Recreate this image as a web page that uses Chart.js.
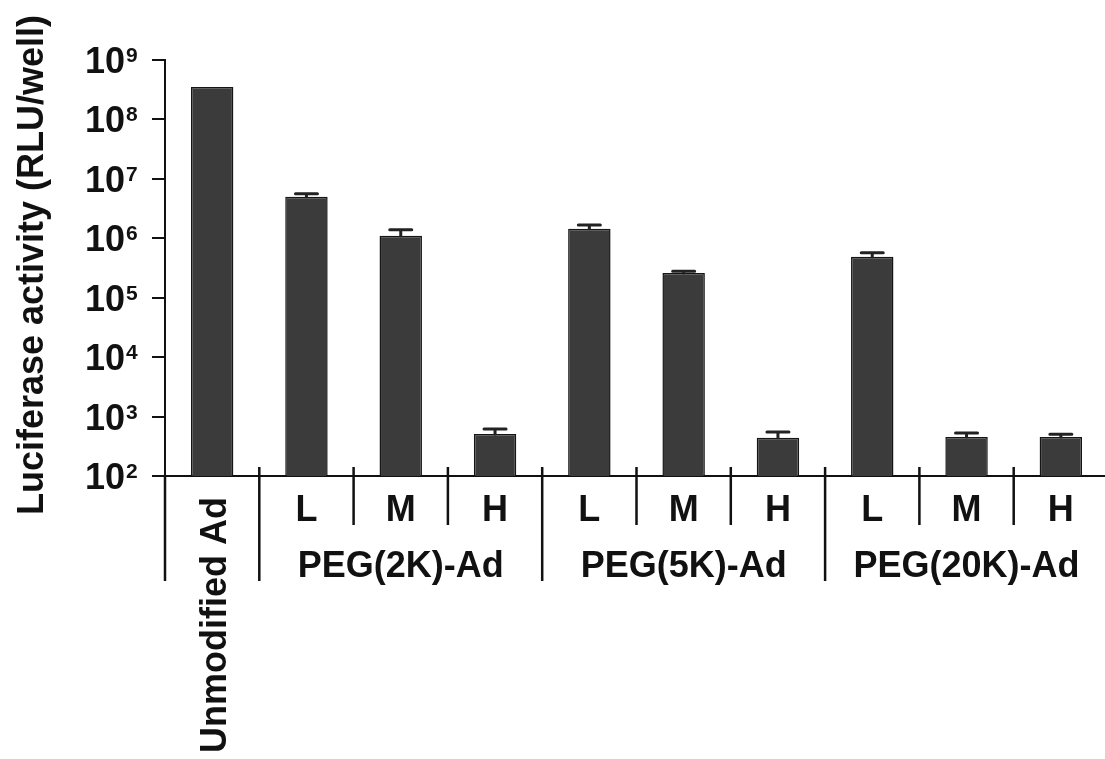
<!DOCTYPE html>
<html>
<head>
<meta charset="utf-8">
<script src="https://cdn.jsdelivr.net/npm/chart.js@4.4.1/dist/chart.umd.min.js"></script>
<style>
  html, body { margin: 0; padding: 0; background: #fff; overflow: hidden; }
  #wrap { width: 1110px; height: 759px; }
</style>
</head>
<body>
<div id="wrap"><canvas id="c"></canvas></div>
<script>
// categories (bottom row) and groups (second row)
const categories = ['Unmodified Ad', 'L', 'M', 'H', 'L', 'M', 'H', 'L', 'M', 'H'];
const groups = [
  { label: 'PEG(2K)-Ad', center: 2 },
  { label: 'PEG(5K)-Ad', center: 5 },
  { label: 'PEG(20K)-Ad', center: 8 }
];
// luciferase activity (RLU/well)
const values = [3.5e8, 5.0e6, 1.1e6, 510, 1.45e6, 2.6e5, 440, 4.9e5, 455, 455];
// top of the error bars (mean + SD)
const errTop = [null, 5.6e6, 1.39e6, 620, 1.68e6, 2.8e5, 550, 5.7e5, 530, 505];
// y ticks (decades)
const yTicks = [1e2, 1e3, 1e4, 1e5, 1e6, 1e7, 1e8, 1e9];
// separators after these category indexes run down past the group labels
const longSeps = [0, 3, 6, 9];

const FONT = '"Liberation Sans", Arial, Helvetica, sans-serif';
const INK = '#111';

// draws superscript tick labels, axis titles, category labels, separators, error bars
const decorPlugin = {
  id: 'decor',
  afterDatasetsDraw(chart) {
    const ctx = chart.ctx;
    const x = chart.scales.x;
    const y = chart.scales.y;
    const meta = chart.getDatasetMeta(0);

    // error bars
    ctx.save();
    ctx.strokeStyle = '#222';
    ctx.lineWidth = 3;
    ctx.lineCap = 'round';
    meta.data.forEach((bar, i) => {
      if (errTop[i] == null) return;
      const top = y.getPixelForValue(errTop[i]);
      ctx.beginPath();
      ctx.moveTo(bar.x, bar.y);
      ctx.lineTo(bar.x, top);
      ctx.moveTo(bar.x - 11, top);
      ctx.lineTo(bar.x + 11, top);
      ctx.stroke();
    });
    ctx.restore();
  },
  afterDraw(chart) {
    const ctx = chart.ctx;
    const x = chart.scales.x;
    const y = chart.scales.y;
    const area = chart.chartArea;
    const base = area.bottom;

    ctx.save();
    ctx.fillStyle = INK;

    // y tick labels: 10 with superscript exponent
    yTicks.forEach(v => {
      const py = y.getPixelForValue(v);
      const exp = Math.round(Math.log10(v));
      ctx.font = 'bold 36px ' + FONT;
      ctx.textAlign = 'right';
      ctx.textBaseline = 'alphabetic';
      ctx.fillText('10', 125, py + 13);
      ctx.font = 'bold 21px ' + FONT;
      ctx.textAlign = 'left';
      ctx.fillText(String(exp), 126, py + 2);
    });

    // y axis title
    ctx.save();
    ctx.translate(43, 265);
    ctx.rotate(-Math.PI / 2);
    ctx.font = 'bold 36px ' + FONT;
    ctx.textAlign = 'center';
    ctx.textBaseline = 'alphabetic';
    ctx.fillText('Luciferase activity (RLU/well)', 0, 0);
    ctx.restore();

    // separators below the x axis
    const half = (x.getPixelForValue(1) - x.getPixelForValue(0)) / 2;
    ctx.strokeStyle = INK;
    ctx.lineWidth = 2.5;
    ctx.beginPath();
    ctx.moveTo(area.left, base);
    ctx.lineTo(area.left, base + 105);
    categories.forEach((c, i) => {
      const px = x.getPixelForValue(i) + half;
      const long = longSeps.includes(i);
      ctx.moveTo(px, base - 9);
      ctx.lineTo(px, base + (long ? 105 : 49));
    });
    ctx.stroke();

    // category labels
    ctx.font = 'bold 36px ' + FONT;
    categories.forEach((c, i) => {
      const px = x.getPixelForValue(i);
      if (i === 0) {
        ctx.save();
        ctx.translate(px + 14, base + 21);
        ctx.rotate(-Math.PI / 2);
        ctx.textAlign = 'right';
        ctx.textBaseline = 'alphabetic';
        ctx.fillText(c, 0, 0);
        ctx.restore();
      } else {
        ctx.textAlign = 'center';
        ctx.textBaseline = 'alphabetic';
        ctx.fillText(c, px, base + 45);
      }
    });

    // group labels
    groups.forEach(g => {
      ctx.textAlign = 'center';
      ctx.fillText(g.label, x.getPixelForValue(g.center), base + 101);
    });
    ctx.restore();
  }
};

new Chart(document.getElementById('c'), {
  type: 'bar',
  data: {
    labels: categories,
    datasets: [{
      data: values,
      backgroundColor: '#3b3b3b',
      borderColor: '#151515',
      borderWidth: 1.5,
      barPercentage: 0.45,
      categoryPercentage: 1.0
    }]
  },
  options: {
    responsive: true,
    maintainAspectRatio: false,
    animation: false,
    layout: { padding: { left: 152, right: 2, top: 60, bottom: 283 } },
    plugins: {
      legend: { display: false },
      tooltip: { enabled: false }
    },
    scales: {
      x: {
        type: 'category',
        grid: { display: false },
        ticks: { display: false },
        border: { display: true, color: INK, width: 2 },
        afterFit: s => { s.height = 0; }
      },
      y: {
        type: 'logarithmic',
        min: 1e2,
        max: 1e9,
        afterBuildTicks: s => { s.ticks = yTicks.map(v => ({ value: v })); },
        ticks: { display: false },
        grid: {
          display: true,
          drawOnChartArea: false,
          drawTicks: true,
          tickLength: 13,
          color: INK,
          lineWidth: 2
        },
        border: { display: true, color: INK, width: 2 },
        afterFit: s => { s.width = 13; }
      }
    }
  },
  plugins: [decorPlugin]
});
</script>
</body>
</html>
